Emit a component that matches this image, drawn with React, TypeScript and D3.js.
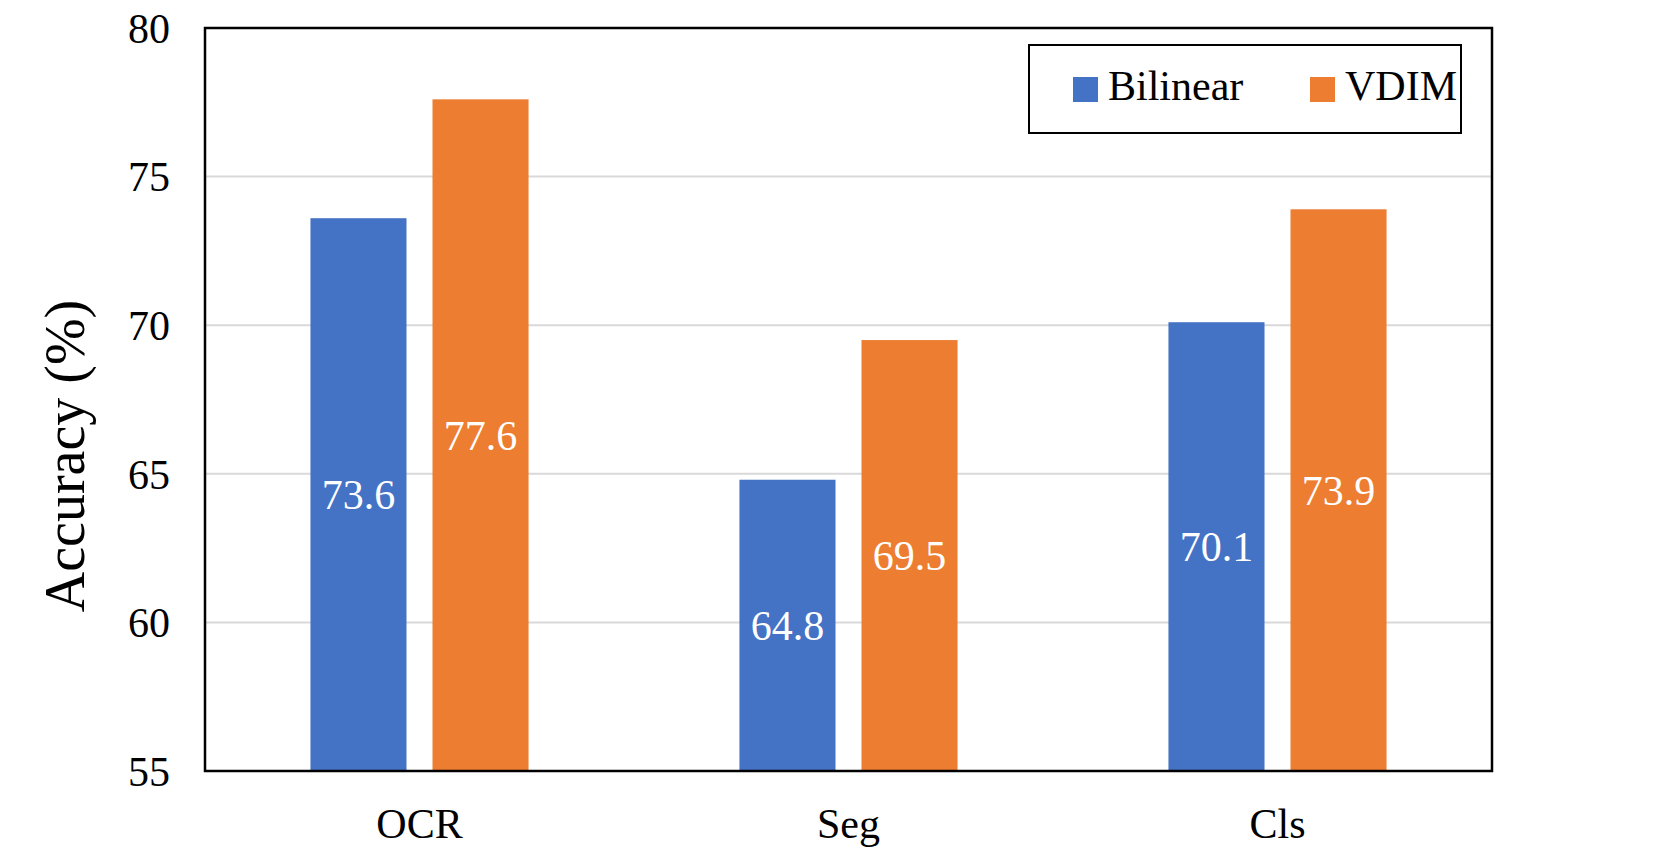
import React, { useRef, useEffect } from "react";
import * as d3 from "d3";

const categories = ["OCR", "Seg", "Cls"];
const seriesNames = ["Bilinear", "VDIM"];
const bilinearValues = [73.6, 64.8, 70.1];
const vdimValues = [77.6, 69.5, 73.9];
const yTicks = [55, 60, 65, 70, 75, 80];
const colors = ["#4472C4", "#ED7D31"];

const W = 1660;
const H = 859;
const margin = { top: 28, right: 168, bottom: 88, left: 205 };
const FONT = "'Liberation Serif', 'Times New Roman', serif";

const App: React.FC = () => {
  const svgRef = useRef<SVGSVGElement>(null);

  useEffect(() => {
    if (!svgRef.current) return;
    const svg = d3.select(svgRef.current);
    svg.selectAll("*").remove();

    const x0 = margin.left;
    const x1 = W - margin.right;
    const y0 = H - margin.bottom;
    const y1 = margin.top;

    const x = d3.scaleBand().domain(categories).range([x0, x1]).padding(0);
    const xs = d3
      .scaleBand()
      .domain(seriesNames)
      .range([0, x.bandwidth()])
      .paddingInner(0.213)
      .paddingOuter(0.864);
    const y = d3.scaleLinear().domain([55, 80]).range([y0, y1]);

    svg.append("rect").attr("width", W).attr("height", H).attr("fill", "#fff");

    // gridlines
    svg
      .append("g")
      .selectAll("line")
      .data(yTicks.filter((t) => t > 55 && t < 80))
      .join("line")
      .attr("x1", x0)
      .attr("x2", x1)
      .attr("y1", (d) => y(d))
      .attr("y2", (d) => y(d))
      .attr("stroke", "#D9D9D9")
      .attr("stroke-width", 2);

    const series = [bilinearValues, vdimValues];
    series.forEach((vals, si) => {
      const g = svg.append("g");
      g.selectAll("rect")
        .data(vals)
        .join("rect")
        .attr("x", (_, i) => x(categories[i])! + xs(seriesNames[si])!)
        .attr("y", (d) => y(d))
        .attr("width", xs.bandwidth())
        .attr("height", (d) => y0 - y(d))
        .attr("fill", colors[si]);
      g.selectAll("text")
        .data(vals)
        .join("text")
        .attr("x", (_, i) => x(categories[i])! + xs(seriesNames[si])! + xs.bandwidth() / 2)
        .attr("y", (d) => (y(d) + y0) / 2)
        .attr("dy", "0.35em")
        .attr("text-anchor", "middle")
        .attr("fill", "#fff")
        .attr("font-family", FONT)
        .attr("font-size", 42)
        .text((d) => d.toFixed(1));
    });

    // frame
    svg
      .append("rect")
      .attr("x", x0)
      .attr("y", y1)
      .attr("width", x1 - x0)
      .attr("height", y0 - y1)
      .attr("fill", "none")
      .attr("stroke", "#000")
      .attr("stroke-width", 2.5);

    // y tick labels
    svg
      .append("g")
      .selectAll("text")
      .data(yTicks)
      .join("text")
      .attr("x", x0 - 35)
      .attr("y", (d) => y(d))
      .attr("dy", "0.35em")
      .attr("text-anchor", "end")
      .attr("font-family", FONT)
      .attr("font-size", 42)
      .text((d) => d);

    // x labels
    svg
      .append("g")
      .selectAll("text")
      .data(categories)
      .join("text")
      .attr("x", (d) => x(d)! + x.bandwidth() / 2)
      .attr("y", y0 + 67)
      .attr("text-anchor", "middle")
      .attr("font-family", FONT)
      .attr("font-size", 42)
      .text((d) => d);

    // y title
    svg
      .append("text")
      .attr("transform", `translate(64,456) rotate(-90)`)
      .attr("dy", "0.35em")
      .attr("text-anchor", "middle")
      .attr("font-family", FONT)
      .attr("font-size", 56)
      .text("Accuracy (%)");

    // legend
    const lg = svg.append("g");
    lg.append("rect")
      .attr("x", 1029)
      .attr("y", 45)
      .attr("width", 432)
      .attr("height", 88)
      .attr("fill", "#fff")
      .attr("stroke", "#000")
      .attr("stroke-width", 2);
    const legendX = [1073, 1310];
    seriesNames.forEach((name, i) => {
      lg.append("rect")
        .attr("x", legendX[i])
        .attr("y", 77)
        .attr("width", 25)
        .attr("height", 25)
        .attr("fill", colors[i]);
      lg.append("text")
        .attr("x", legendX[i] + 35)
        .attr("y", 100)
        .attr("font-family", FONT)
        .attr("font-size", 42)
        .text(name);
    });
  }, []);

  return (
    <svg
      ref={svgRef}
      width={W}
      height={H}
      style={{ position: "absolute", left: 0, top: 0 }}
    ></svg>
  );
};

export default App;
